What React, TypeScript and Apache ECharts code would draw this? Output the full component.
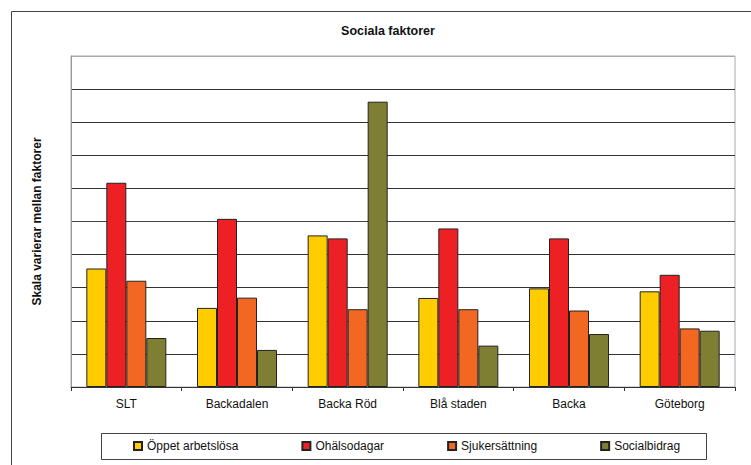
import React, { useEffect, useRef } from "react";
import * as echarts from "echarts";

const categories = ["SLT", "Backadalen", "Backa Röd", "Blå staden", "Backa", "Göteborg"];
const seriesNames = ["Öppet arbetslösa", "Ohälsodagar", "Sjukersättning", "Socialbidrag"];
const oppetArbetslosa = [3.58, 2.39, 4.58, 2.69, 2.98, 2.89];
const ohalsodagar = [6.17, 5.08, 4.49, 4.79, 4.49, 3.39];
const sjukersattning = [3.21, 2.7, 2.35, 2.35, 2.31, 1.77];
const socialbidrag = [1.48, 1.12, 8.62, 1.25, 1.6, 1.7];
const colors = ["#FFCC00", "#ED2124", "#F26722", "#7F7F33"];

const FONT = "'Liberation Sans', Arial, sans-serif";

export default function App() {
  const ref = useRef<HTMLDivElement>(null);
  useEffect(() => {
    if (!ref.current) return;
    const chart = echarts.init(ref.current, null, { renderer: "svg" });
    const values = [oppetArbetslosa, ohalsodagar, sjukersattning, socialbidrag];
    const gridColors = ["#333", "#333", "#333", "#333", "#333", "#444", "#333", "#333", "#333", "#333", "#aaaaaa"];
    chart.setOption({
      animation: false,
      backgroundColor: "#ffffff",
      textStyle: { fontFamily: FONT },
      graphic: [
        {
          type: "rect",
          shape: { x: 11.5, y: 11.5, width: 780, height: 480 },
          style: { fill: "none", stroke: "#444", lineWidth: 1 },
          silent: true,
        },
        {
          type: "rect",
          shape: { x: 101.5, y: 433.5, width: 605, height: 26 },
          style: { fill: "none", stroke: "#444", lineWidth: 1 },
          silent: true,
        },
        {
          type: "text",
          x: 388,
          y: 31,
          style: {
            text: "Sociala faktorer",
            textAlign: "center",
            textVerticalAlign: "middle",
            fontFamily: FONT,
            fontWeight: "bold",
            fontSize: 12.5,
            fill: "#111",
          },
        },
      ],
      grid: {
        left: 71,
        right: 16,
        top: 56,
        bottom: 78,
        show: true,
        borderColor: "#aaaaaa",
        borderWidth: 1,
        backgroundColor: "transparent",
      },
      legend: {
        data: seriesNames,
        left: 133,
        top: 440,
        padding: 0,
        itemWidth: 8,
        itemHeight: 8,
        itemGap: 63,
        icon: "rect",
        textStyle: { fontFamily: FONT, fontSize: 12, color: "#111" },
      },
      xAxis: {
        type: "category",
        data: categories,
        axisLine: { show: true, lineStyle: { color: "#333", width: 1 } },
        axisTick: { show: true, length: 4, alignWithLabel: false, lineStyle: { color: "#333" } },
        axisLabel: { fontFamily: FONT, fontSize: 12, color: "#111", margin: 11 },
        splitLine: { show: false },
      },
      yAxis: {
        type: "value",
        min: 0,
        max: 10,
        interval: 1,
        name: "Skala varierar mellan faktorer",
        nameLocation: "middle",
        nameRotate: 90,
        nameGap: 28,
        nameTextStyle: { fontFamily: FONT, fontSize: 12, fontWeight: "bold", color: "#111" },
        axisLine: { show: true, lineStyle: { color: "#999", width: 1 } },
        axisTick: { show: false },
        axisLabel: { show: false },
        splitLine: { show: true, lineStyle: { color: gridColors, width: 1 } },
      },
      series: seriesNames.map((name, i) => ({
        name,
        type: "bar",
        data: values[i],
        barWidth: 20,
        barGap: "0%",
        itemStyle: { color: colors[i], borderColor: "#222", borderWidth: 1 },
      })),
    });
    return () => chart.dispose();
  }, []);
  return (
    <div
      ref={ref}
      style={{ position: "fixed", left: 0, top: 0, width: 751, height: 465, background: "#fff" }}
    />
  );
}
